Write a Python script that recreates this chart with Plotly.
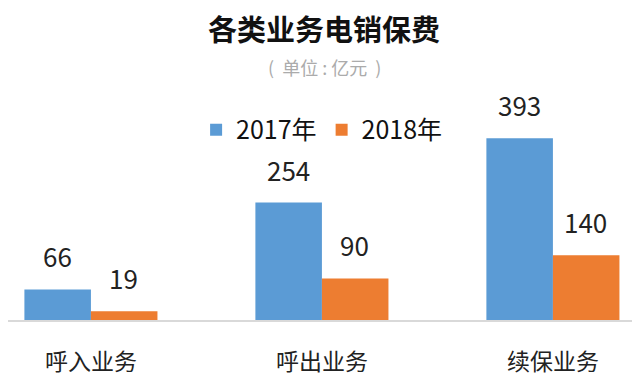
import plotly.graph_objects as go

categories = ["呼入业务", "呼出业务", "续保业务"]
series_names = ["2017年", "2018年"]
values_2017 = [66, 254, 393]
values_2018 = [19, 90, 140]
colors = ["#5B9BD5", "#ED7D31"]

FONT = "Noto Sans CJK SC"
NB = "\u00a0"

fig = go.Figure()
for name, vals, col in zip(series_names, [values_2017, values_2018], colors):
    fig.add_trace(go.Bar(x=categories, y=vals, name=name, marker_color=col,
                         marker_line_width=0))

# data labels
for vals, shift in [(values_2017, -33), (values_2018, 33)]:
    for c, v in zip(categories, vals):
        fig.add_annotation(x=c, y=v, text=str(v), showarrow=False, xshift=shift,
                           yanchor="bottom", yshift=13,
                           font=dict(family=FONT, size=26, color="#222222"))

fig.add_annotation(xref="paper", yref="paper", x=0.5, y=0.936, text="<b>各类业务电销保费</b>",
                   showarrow=False, yanchor="middle",
                   font=dict(family=FONT, size=29, color="#111111"))
fig.add_annotation(xref="paper", yref="paper", x=0.5, y=0.811,
                   text=f"({NB}{NB}单位{NB}:{NB}亿元{NB}{NB})",
                   showarrow=False, yanchor="middle",
                   font=dict(family=FONT, size=18, color="#ababab"))

fig.update_layout(
    width=632, height=370,
    margin=dict(l=0, r=0, t=0, b=58),
    paper_bgcolor="white", plot_bgcolor="white",
    barmode="group", bargap=0.424, bargroupgap=0,
    font=dict(family=FONT, color="#222222"),
    legend=dict(orientation="h", x=0.497, xanchor="center", y=0.609, yanchor="middle",
                font=dict(family=FONT, size=25, color="#111111"),
                bgcolor="rgba(0,0,0,0)"),
    xaxis=dict(range=[-0.359, 2.377], showline=True, linecolor="#d9d9d9", linewidth=2,
               showgrid=False, zeroline=False, ticks="", ticklabelstandoff=20,
               tickfont=dict(family=FONT, size=23, color="#222222")),
    yaxis=dict(range=[0, 675], visible=False, showgrid=False, zeroline=False),
)

fig.write_html("out.html")
